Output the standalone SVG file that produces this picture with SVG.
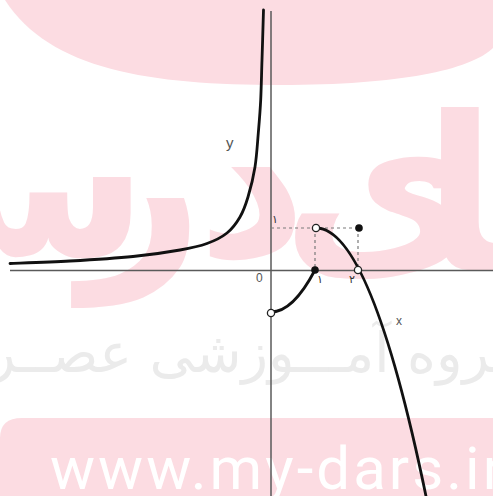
<svg xmlns="http://www.w3.org/2000/svg" width="493" height="496" viewBox="0 0 493 496">
<style>
.wm{fill:#fcdce2}
.logo{fill:#fcdce2;font-family:"DejaVu Sans",sans-serif;font-weight:bold;font-size:215px;text-anchor:middle}
.axis{stroke:#5a5a5a;stroke-width:1.5;fill:none}
.dash{stroke:#7a7a7a;stroke-width:1.2;stroke-dasharray:3 3;fill:none}
.curve{stroke:#111;stroke-width:2.8;fill:none;stroke-linecap:round}
.lbl{font-family:"Liberation Sans",Arial,sans-serif;fill:#555}
.fa{font-family:"DejaVu Sans",sans-serif;fill:#333}
.open{fill:#fff;stroke:#222;stroke-width:1.3}
.full{fill:#111}
</style>
<rect width="493" height="496" fill="#fff"/>
<g id="watermark">
<path class="wm" d="M5,0 C50,70 150,85 280,85 C400,85 470,70 493,48 L493,0 Z"/>
<text class="logo" x="0" y="256">س</text>
<text class="logo" x="142" y="256">ر</text>
<text class="logo" x="252" y="256">د</text>
<text class="logo" x="380" y="256">ی</text>
<text class="logo" x="530" y="270">ما</text>
<text x="254" y="372" text-anchor="middle" font-family="DejaVu Sans,sans-serif" font-size="55" fill="#ebebeb">گروه آمـــوزشی عصــر</text>
<path class="wm" d="M0,438 Q0,418 22,418 L493,418 L493,496 L0,496 Z"/>
<text x="50" y="489" font-family="Roboto,sans-serif" font-size="60" fill="#fff" textLength="453" lengthAdjust="spacing">www.my-dars.ir</text>
</g>
<g id="axes">
<path class="axis" d="M10,270.5 H493"/>
<path class="axis" d="M271,11 V496"/>
<text class="lbl" x="226" y="148" font-size="15">y</text>
<text class="lbl" x="256" y="282" font-size="12">0</text>
<text class="lbl" x="396" y="325" font-size="12">x</text>
<text class="fa" x="272" y="223" font-size="11">۱</text>
<text class="fa" x="317" y="283" font-size="11">۱</text>
<text class="fa" x="349" y="283" font-size="11">۲</text>
</g>
<g id="connectors">
<path class="dash" d="M271,228 H359 M315,228 V270 M358,228 V270"/>
</g>
<g id="curve-left">
<path class="curve" d="M10,263.5 C20,263.1 49.5,262.2 70,261 C90.5,259.8 114.7,258.3 133,256.5 C151.3,254.7 167.7,252.2 180,250 C192.3,247.8 199.2,246.3 207,243.5 C214.8,240.7 221.5,237.4 227,233 C232.5,228.6 236.5,223 240,217 C243.5,211 245.5,205.3 248,197 C250.5,188.7 253.3,177.7 255,167 C256.7,156.3 257.35,144.2 258.3,133 C259.25,121.8 260.1,112.2 260.7,100 C261.3,87.8 261.5,75 262,60 C262.5,45 263.25,18.3 263.5,10"/>
</g>
<g id="curve-middle">
<path class="curve" d="M271,312 Q293,312 315,270"/>
</g>
<g id="curve-right">
<path class="curve" d="M316,228 Q371,228 427,501"/>
</g>
<g id="points">
<circle id="p1" class="open" cx="316" cy="228" r="3.6"/>
<circle id="p2" class="full" cx="359" cy="228" r="3.8"/>
<circle id="p3" class="full" cx="315" cy="270" r="3.8"/>
<circle id="p4" class="open" cx="358" cy="270" r="3.6"/>
<circle id="p5" class="open" cx="271" cy="313" r="3.6"/>
</g>
</svg>
